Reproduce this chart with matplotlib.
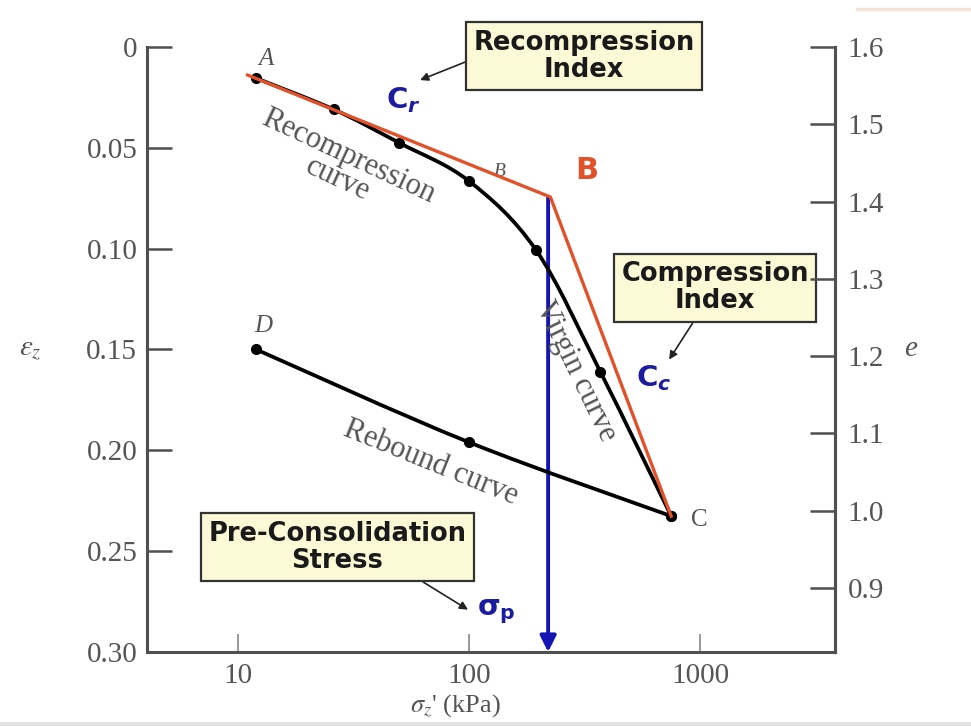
import numpy as np
import matplotlib
matplotlib.use('Agg')
import matplotlib.pyplot as plt
from matplotlib.path import Path
from matplotlib.patches import PathPatch, Rectangle
from matplotlib.lines import Line2D

# loading branch A -> B -> C (stress in kPa, vertical strain)
load_stress = [12, 26, 50, 100, 195, 370, 750]
load_strain = [0.0155, 0.031, 0.0476, 0.0665, 0.1007, 0.161, 0.2326]

# unloading branch C -> D
rebound_stress = [750, 100, 12]
rebound_strain = [0.2326, 0.196, 0.150]

# bilinear Casagrande-style construction
ideal_stress = [11, 225, 750]
ideal_strain = [0.0139, 0.0744, 0.2326]
precon_stress = 220
precon_strain = 0.0744

strain_ticks = [0, 0.05, 0.10, 0.15, 0.20, 0.25, 0.30]
strain_labels = ['0', '0.05', '0.10', '0.15', '0.20', '0.25', '0.30']
void_ticks = [0.9, 1.0, 1.1, 1.2, 1.3, 1.4, 1.5, 1.6]
void_labels = ['0.9', '1.0', '1.1', '1.2', '1.3', '1.4', '1.5', '1.6']
stress_ticks = [10, 100, 1000]
stress_labels = ['10', '100', '1000']

SERIF = ['Liberation Serif', 'DejaVu Serif']
AXIS_GRAY = '#505050'
TEXT_GRAY = '#555555'
RED = '#e2522a'
BLUE = '#1414b4'
LABEL_BLUE = '#1c1ca0'
BOX_FILL = '#fbf9d6'
TICK_SIZE = 21

plt.rcParams['mathtext.fontset'] = 'custom'
plt.rcParams['mathtext.bf'] = 'DejaVu Sans:bold'
plt.rcParams['mathtext.it'] = 'DejaVu Sans:bold:italic'
plt.rcParams['mathtext.rm'] = 'DejaVu Sans:bold'


def smooth_path(xs, ys):
    """Catmull-Rom spline through the points, built in log-x space."""
    pts = np.column_stack([np.log10(xs), ys])
    n = len(pts)
    verts = [pts[0]]
    codes = [Path.MOVETO]
    for i in range(n - 1):
        p0 = pts[max(i - 1, 0)]
        p1, p2 = pts[i], pts[i + 1]
        p3 = pts[min(i + 2, n - 1)]
        verts += [p1 + (p2 - p0) / 6, p2 - (p3 - p1) / 6, p2]
        codes += [Path.CURVE4] * 3
    verts = np.array(verts)
    verts[:, 0] = 10 ** verts[:, 0]
    return Path(verts, codes)


fig = plt.figure(figsize=(9.71, 7.26), dpi=100)
ax = fig.add_axes([0.1514, 0.1019, 0.7086, 0.8334])

ax.set_xscale('log')
ax.set_xlim(4.04, 3840)
ax.set_ylim(0.30, 0)

# measured curves
for xs, ys in [(load_stress, load_strain), (rebound_stress, rebound_strain)]:
    ax.add_patch(PathPatch(smooth_path(xs, ys), fill=False, ec='black',
                           lw=2.7, capstyle='round', zorder=3))
ax.plot(load_stress, load_strain, 'o', color='black', ms=7, zorder=4)
ax.plot(rebound_stress, rebound_strain, 'o', color='black', ms=7, zorder=4)

# idealised lines and pre-consolidation stress
ax.plot(ideal_stress, ideal_strain, color=RED, lw=2.4, zorder=5,
        solid_joinstyle='miter')
ax.annotate('', xy=(precon_stress, 0.30), xytext=(precon_stress, precon_strain),
            arrowprops=dict(arrowstyle='-|>', color=BLUE, lw=2.8,
                            mutation_scale=24, shrinkA=0, shrinkB=0),
            zorder=2)

# point letters
letter_kw = dict(textcoords='offset points', fontsize=18, color=TEXT_GRAY,
                 family=SERIF, ha='center', va='center')
ax.annotate('A', (load_stress[0], load_strain[0]), xytext=(7, 14),
            style='italic', **letter_kw)
ax.annotate('B', (load_stress[3], load_strain[3]), xytext=(22, 7),
            style='italic', zorder=1, **{**letter_kw, 'fontsize': 14})
ax.annotate('C', (load_stress[-1], load_strain[-1]), xytext=(20, -3),
            **letter_kw)
ax.annotate('D', (rebound_stress[-1], rebound_strain[-1]), xytext=(5, 17),
            style='italic', **letter_kw)
ax.annotate('B', (ideal_stress[1], ideal_strain[1]), xytext=(26, 19),
            textcoords='offset points', fontsize=22, fontweight='bold',
            color=RED, ha='center', va='center', family='DejaVu Sans')

# curve names
curve_kw = dict(fontsize=22, color=TEXT_GRAY, family=SERIF, ha='center',
                va='center', rotation_mode='anchor', multialignment='center')
ax.text(28.5, 0.0600, 'Recompression\ncurve', rotation=-25,
        linespacing=0.85, **curve_kw)
ax.text(290, 0.161, 'Virgin curve', rotation=-64, **curve_kw)
ax.text(68.5, 0.206, 'Rebound curve', rotation=-22, **curve_kw)

# callout boxes
box_kw = dict(fontsize=18.5, fontweight='bold', color='#1a1a1a',
              family='DejaVu Sans', ha='center', va='center',
              multialignment='center', linespacing=1.05,
              bbox=dict(boxstyle='square,pad=0.3', fc=BOX_FILL, ec='#333333',
                        lw=1.6))
arrow_kw = dict(arrowstyle='-|>', color='#222222', lw=1.2, mutation_scale=12,
                shrinkA=0, shrinkB=0)

ax.annotate('Recompression\nIndex', xy=(61.4, 0.0164), xytext=(315, 0.0045),
            arrowprops=dict(relpos=(0, 0.45), **arrow_kw), **box_kw)
ax.annotate('Compression\nIndex', xy=(735, 0.155), xytext=(1161, 0.1195),
            arrowprops=dict(relpos=(0.41, 0), **arrow_kw), **box_kw)
ax.annotate('Pre-Consolidation\nStress', xy=(99, 0.279), xytext=(26.9, 0.248),
            arrowprops=dict(relpos=(0.78, 0), **arrow_kw), **box_kw)

sym_kw = dict(fontsize=21, color=LABEL_BLUE, ha='center', va='center',
              math_fontfamily='custom')
ax.text(51.8, 0.0263, r'$\mathbf{C}_{r}$', **sym_kw)
ax.text(631, 0.164, r'$\mathbf{C}_{c}$', **sym_kw)
ax.text(131, 0.280, r'$\mathbf{\sigma}_{\mathbf{p}}$', **sym_kw)

# left axis: vertical strain
ax.set_yticks(strain_ticks)
ax.set_yticklabels(strain_labels)
ax.set_xticks(stress_ticks)
ax.set_xticklabels(stress_labels)
ax.xaxis.set_minor_locator(matplotlib.ticker.NullLocator())
ax.tick_params(axis='y', direction='in', length=18, width=1.8,
               color=AXIS_GRAY, pad=7, labelsize=TICK_SIZE,
               labelcolor=TEXT_GRAY)
ax.tick_params(axis='x', direction='in', length=13, width=1.2,
               color='#888888', pad=8, labelsize=TICK_SIZE,
               labelcolor=TEXT_GRAY)
for lab in ax.get_xticklabels() + ax.get_yticklabels():
    lab.set_family(SERIF)

ax.spines['top'].set_visible(False)
for side in ['left', 'bottom', 'right']:
    ax.spines[side].set_color(AXIS_GRAY)
    ax.spines[side].set_linewidth(2.2)

ax.set_xlabel(r"$\sigma_z$' (kPa)", fontsize=19, color=TEXT_GRAY,
              family=SERIF, math_fontfamily='stix')
ax.xaxis.set_label_coords(0.448, -0.067)
ax.set_ylabel(r'$\epsilon_z$', fontsize=21, color=TEXT_GRAY, rotation=0,
              math_fontfamily='stix', ha='center', va='center')
ax.yaxis.set_label_coords(-0.17, 0.5)

# right axis: void ratio
ax2 = ax.twinx()
ax2.set_ylim(0.817, 1.6)
ax2.set_yticks(void_ticks)
ax2.set_yticklabels(void_labels)
ax2.tick_params(axis='y', direction='in', length=18, width=1.8,
                color=AXIS_GRAY, pad=9, labelsize=TICK_SIZE,
                labelcolor=TEXT_GRAY)
for lab in ax2.get_yticklabels():
    lab.set_family(SERIF)
for side in ['top', 'left', 'bottom']:
    ax2.spines[side].set_visible(False)
ax2.spines['right'].set_color(AXIS_GRAY)
ax2.spines['right'].set_linewidth(2.2)
ax2.set_ylabel('e', fontsize=TICK_SIZE, color=TEXT_GRAY, family=SERIF,
               style='italic', rotation=0, ha='center', va='center')
ax2.yaxis.set_label_coords(1.11, 0.5)

# slide trim along the edges
fig.add_artist(Line2D([0.883, 1.0], [0.988, 0.988], color='#f7e2d6', lw=2.5))
fig.add_artist(Rectangle((0, 0), 1, 0.006, color='#e4e4e4', lw=0))

fig.savefig('out.png', dpi=100)
